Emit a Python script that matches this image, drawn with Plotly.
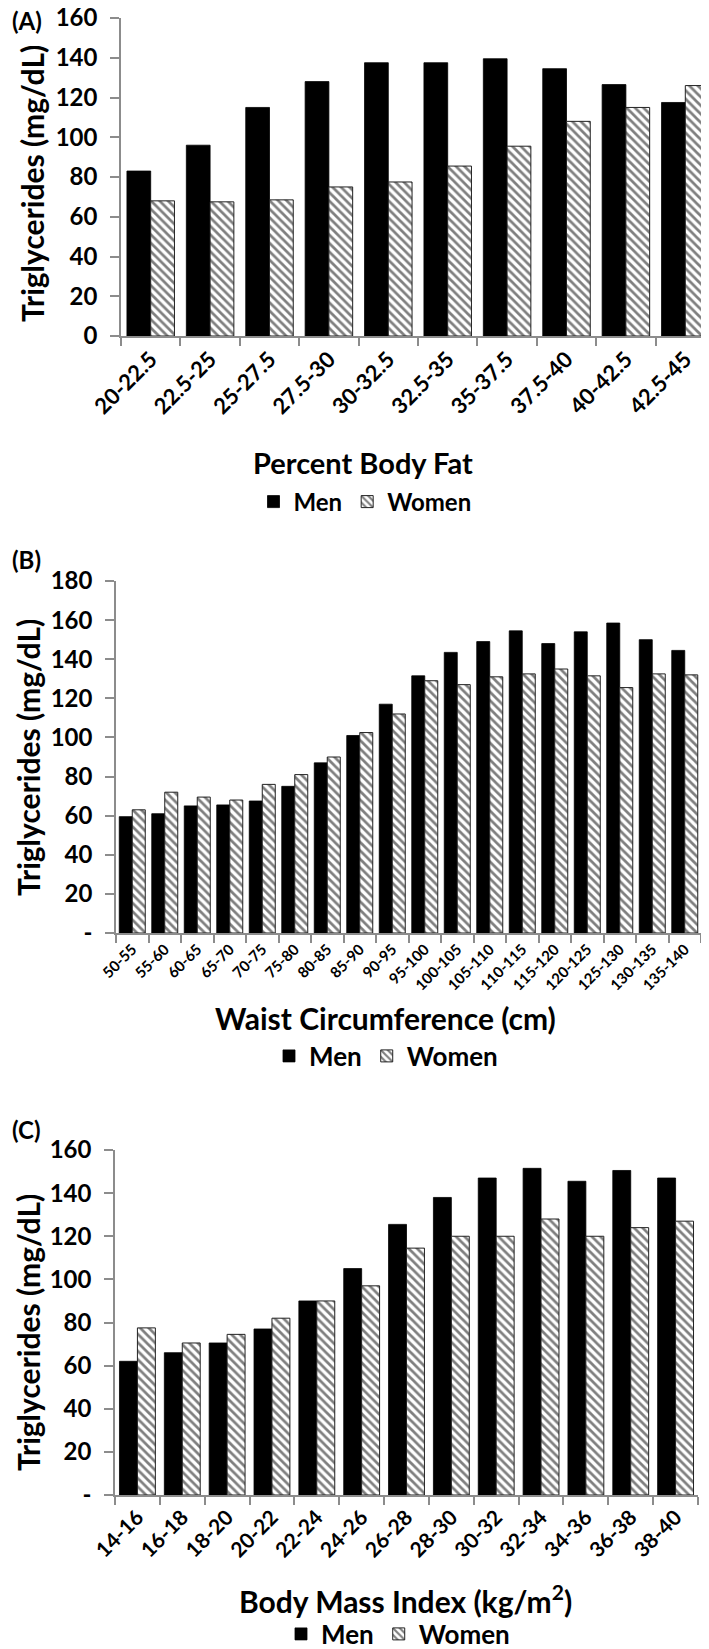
import plotly.graph_objects as go

W, H = 709, 1649

# ---------------- data ----------------
A_cats = ["20-22.5", "22.5-25", "25-27.5", "27.5-30", "30-32.5",
          "32.5-35", "35-37.5", "37.5-40", "40-42.5", "42.5-45"]
A_men = [83, 96, 115, 128, 137.5, 137.5, 139.5, 134.5, 126.5, 117.5]
A_women = [68, 67.5, 68.5, 75, 77.5, 85.5, 95.5, 108, 115, 126]

B_cats = ["50-55", "55-60", "60-65", "65-70", "70-75", "75-80", "80-85",
          "85-90", "90-95", "95-100", "100-105", "105-110", "110-115",
          "115-120", "120-125", "125-130", "130-135", "135-140"]
B_men = [59.5, 61, 65, 65.5, 67.5, 75, 87, 101, 117, 131.5, 143.5, 149,
         154.5, 148, 154, 158.5, 150, 144.5]
B_women = [63, 72, 69.5, 68, 76, 81, 90, 102.5, 112, 129, 127, 131, 132.5,
           135, 131.5, 125.5, 132.5, 132]

C_cats = ["14-16", "16-18", "18-20", "20-22", "22-24", "24-26", "26-28",
          "28-30", "30-32", "32-34", "34-36", "36-38", "38-40"]
C_men = [62, 66, 70.5, 77, 90, 105, 125.5, 138, 147, 151.5, 145.5, 150.5, 147]
C_women = [77.5, 70.5, 74.5, 82, 90, 97, 114.5, 120, 120, 128, 120, 124, 127]

A_yticks = [0, 20, 40, 60, 80, 100, 120, 140, 160]
A_ytext = ["0", "20", "40", "60", "80", "100", "120", "140", "160"]
B_yticks = [0, 20, 40, 60, 80, 100, 120, 140, 160, 180]
B_ytext = ["-", "20", "40", "60", "80", "100", "120", "140", "160", "180"]
C_yticks = [0, 20, 40, 60, 80, 100, 120, 140, 160]
C_ytext = ["-", "20", "40", "60", "80", "100", "120", "140", "160"]

FONT = "Lato"
AX = "#8c8c8c"


def py(y):
    return 1 - y / H


def px(x):
    return x / W


fig = go.Figure()

panels = [
    (A_cats, A_men, A_women, "x", "y", "legend"),
    (B_cats, B_men, B_women, "x2", "y2", "legend2"),
    (C_cats, C_men, C_women, "x3", "y3", "legend3"),
]

for cats, men, women, xa, ya, lg in panels:
    fig.add_trace(go.Bar(
        x=cats, y=men, name="Men", xaxis=xa, yaxis=ya, legend=lg,
        marker=dict(color="black", line=dict(color="black", width=0.8)),
    ))
    fig.add_trace(go.Bar(
        x=cats, y=women, name="Women", xaxis=xa, yaxis=ya, legend=lg,
        marker=dict(color="white", line=dict(color="#222222", width=1),
                    pattern=dict(shape="\\", fgcolor="black", bgcolor="white",
                                 size=6, solidity=0.45)),
    ))


def xaxis_cfg(x0, x1, tsize, anchor):
    return dict(
        domain=[px(x0), px(x1)], anchor=anchor, automargin=False,
        showline=True, linecolor=AX, linewidth=1.5,
        ticks="outside", tickson="boundaries", ticklen=8, tickcolor=AX,
        tickwidth=1.5, tickangle=-45, ticklabeloverflow="allow",
        tickfont=dict(family=FONT, size=tsize, color="black", weight="bold"),
        showgrid=False, zeroline=False, fixedrange=True,
    )


def yaxis_cfg(y_top, y_bottom, rng, tv, tt, anchor):
    return dict(
        domain=[py(y_bottom), py(y_top)], anchor=anchor, range=rng,
        automargin=False,
        showline=True, linecolor=AX, linewidth=1.5,
        ticks="outside", ticklen=9, tickcolor=AX, tickwidth=1.5,
        tickvals=tv, ticktext=tt, ticklabeloverflow="allow",
        ticklabelstandoff=8,
        tickfont=dict(family=FONT, size=24, color="black", weight="bold"),
        showgrid=False, zeroline=False, fixedrange=True,
    )


fig.update_layout(
    width=W, height=H,
    margin=dict(l=0, r=0, t=0, b=0, autoexpand=False),
    paper_bgcolor="white", plot_bgcolor="white",
    font=dict(family=FONT, color="black", weight="bold"),
    barmode="group", bargap=0.2, bargroupgap=0,
    xaxis=xaxis_cfg(113, 707, 22, "y"),
    yaxis=yaxis_cfg(10, 328, [0, 160], A_yticks, A_ytext, "x"),
    xaxis2=xaxis_cfg(108, 693, 15, "y2"),
    yaxis2=yaxis_cfg(573, 925, [0, 180], B_yticks, B_ytext, "x2"),
    xaxis3=xaxis_cfg(107, 690, 21, "y3"),
    yaxis3=yaxis_cfg(1142, 1487, [0, 160], C_yticks, C_ytext, "x3"),
    legend=dict(orientation="h", x=px(357), y=py(494), xanchor="center",
                yanchor="middle", font=dict(family=FONT, size=24, weight="bold"),
                itemwidth=30, traceorder="normal", bgcolor="rgba(0,0,0,0)"),
    legend2=dict(orientation="h", x=px(378), y=py(1048), xanchor="center",
                 yanchor="middle", font=dict(family=FONT, size=26, weight="bold"),
                 itemwidth=30, traceorder="normal", bgcolor="rgba(0,0,0,0)"),
    legend3=dict(orientation="h", x=px(390), y=py(1626), xanchor="center",
                 yanchor="middle", font=dict(family=FONT, size=26, weight="bold"),
                 itemwidth=30, traceorder="normal", bgcolor="rgba(0,0,0,0)"),
)

annots = [
    ("(A)", 2, 13, 24, 0, "left"),
    ("(B)", 2, 552, 24, 0, "left"),
    ("(C)", 2, 1121, 24, 0, "left"),
    ("Percent Body Fat", 355, 454, 29, 0, "center"),
    ("Waist Circumference (cm)", 378, 1010, 30, 0, "center"),
    ("Body Mass Index (kg/m<sup>2</sup>)", 397, 1591, 30, 0, "center"),
    ("Triglycerides (mg/dL)", 24, 176, 30, -90, "center"),
    ("Triglycerides (mg/dL)", 20, 750, 30, -90, "center"),
    ("Triglycerides (mg/dL)", 20, 1325, 30, -90, "center"),
]
for text, x, y, size, ang, xa in annots:
    fig.add_annotation(
        text=text, x=px(x), y=py(y), xref="paper", yref="paper",
        xanchor=xa, yanchor="middle", showarrow=False, textangle=ang,
        font=dict(family=FONT, size=size, color="black", weight="bold"),
    )

fig.write_html("out.html")
